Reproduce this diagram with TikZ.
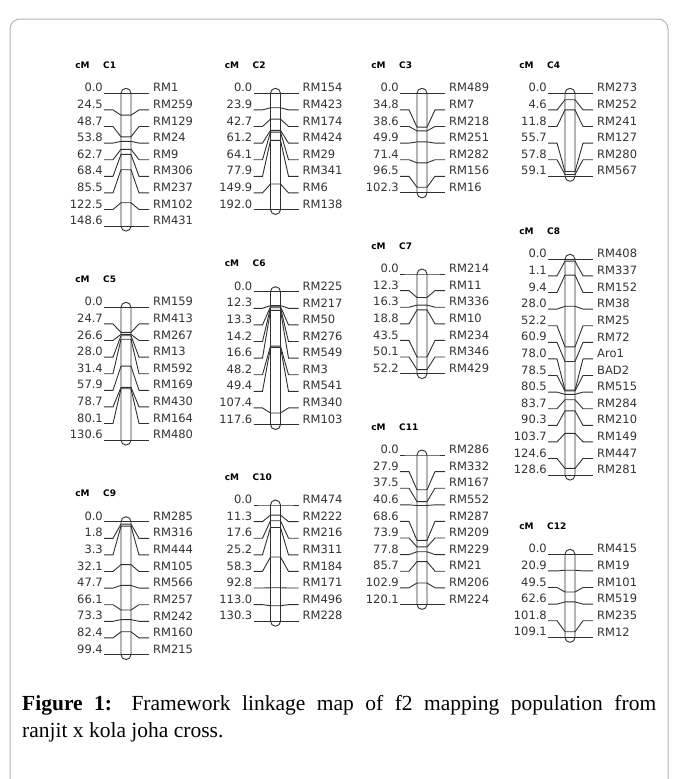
\documentclass[tikz,border=0pt]{standalone}
\usepackage{fontspec}
\setmainfont{Liberation Serif}
\newfontfamily\chfont{DejaVu Sans}
\definecolor{txtgray}{HTML}{333333}
\definecolor{linegray}{HTML}{303030}
\definecolor{framegray}{HTML}{B4B4B4}
\tikzset{
  numlab/.style={anchor=east, font=\chfont\fontsize{11.5}{12}\selectfont, inner sep=0pt, text=txtgray},
  mklab/.style={anchor=west, font=\chfont\fontsize{11.5}{12}\selectfont, inner sep=0pt, text=txtgray},
  hdr/.style={font=\chfont\bfseries\fontsize{9}{10}\selectfont, inner sep=0pt, text=black},
  link/.style={line width=0.9pt, draw=linegray},
  chbar/.style={line width=0.9pt, draw=linegray, fill=white, rounded corners=5pt},
  framebox/.style={line width=1pt, draw=framegray, rounded corners=10pt},
  captext/.style={font=\fontsize{21.5}{26}\selectfont, inner sep=0pt, text=black}
}
% #1 id, #2 header, #3 bar centre x, #4 first row y, #5 number of markers, #6 max cM, #7 list
\newcommand{\chromo}[7]{%
  \pgfmathsetmacro{\chspan}{(#5-1)*16.6}%
  \node[hdr] (#1-cm) at (#3-43.5, #4-28) {cM};
  \node[hdr, anchor=west] (#1-hd) at (#3-23, #4-28) {#2};
  \draw[chbar] (#3-5, #4-5) rectangle (#3+5, #4+\chspan+5);
  \foreach \cmv/\labv [count=\i from 0] in {#7} {
    \pgfmathsetmacro{\ry}{#4+\i*16.6}
    \pgfmathsetmacro{\ty}{#4+\cmv/#6*\chspan}
    \node[numlab] (#1-n\i) at (#3-23, \ry-5.5) {\cmv};
    \node[mklab] (#1-m\i) at (#3+27, \ry-5.5) {\labv};
    \coordinate (#1-a\i) at (#3-22, \ry);
    \coordinate (#1-b\i) at (#3-13, \ry);
    \coordinate (#1-c\i) at (#3-5, \ty);
    \coordinate (#1-d\i) at (#3+5, \ty);
    \coordinate (#1-e\i) at (#3+13, \ry);
    \coordinate (#1-f\i) at (#3+23, \ry);
    \draw[link] (#1-a\i) -- (#1-b\i) -- (#1-c\i) -- (#1-d\i) -- (#1-e\i) -- (#1-f\i);
  }%
}
\begin{document}
\begin{tikzpicture}[x=1pt,y=-1pt]
\useasboundingbox (0,0) rectangle (678,779);
\fill[white] (0,0) rectangle (678,779);
\draw[framebox] (10,790) -- (10,19) -- (668,19) -- (668,790);

\chromo{c1}{C1}{126}{93.3}{9}{148.6}{0.0/RM1,24.5/RM259,48.7/RM129,53.8/RM24,62.7/RM9,68.4/RM306,85.5/RM237,122.5/RM102,148.6/RM431}
\chromo{c2}{C2}{275.5}{93.3}{8}{192.0}{0.0/RM154,23.9/RM423,42.7/RM174,61.2/RM424,64.1/RM29,77.9/RM341,149.9/RM6,192.0/RM138}
\chromo{c3}{C3}{422}{93.3}{7}{102.3}{0.0/RM489,34.8/RM7,38.6/RM218,49.9/RM251,71.4/RM282,96.5/RM156,102.3/RM16}
\chromo{c4}{C4}{570}{93.3}{6}{59.1}{0.0/RM273,4.6/RM252,11.8/RM241,55.7/RM127,57.8/RM280,59.1/RM567}
\chromo{c5}{C5}{126}{307.3}{9}{130.6}{0.0/RM159,24.7/RM413,26.6/RM267,28.0/RM13,31.4/RM592,57.9/RM169,78.7/RM430,80.1/RM164,130.6/RM480}
\chromo{c6}{C6}{275.5}{291.7}{9}{117.6}{0.0/RM225,12.3/RM217,13.3/RM50,14.2/RM276,16.6/RM549,48.2/RM3,49.4/RM541,107.4/RM340,117.6/RM103}
\chromo{c7}{C7}{422}{274}{7}{52.2}{0.0/RM214,12.3/RM11,16.3/RM336,18.8/RM10,43.5/RM234,50.1/RM346,52.2/RM429}
\chromo{c8}{C8}{570}{259.3}{14}{128.6}{0.0/RM408,1.1/RM337,9.4/RM152,28.0/RM38,52.2/RM25,60.9/RM72,78.0/Aro1,78.5/BAD2,80.5/RM515,83.7/RM284,90.3/RM210,103.7/RM149,124.6/RM447,128.6/RM281}
\chromo{c9}{C9}{126}{521.7}{9}{99.4}{0.0/RM285,1.8/RM316,3.3/RM444,32.1/RM105,47.7/RM566,66.1/RM257,73.3/RM242,82.4/RM160,99.4/RM215}
\chromo{c10}{C10}{275.5}{505}{8}{130.3}{0.0/RM474,11.3/RM222,17.6/RM216,25.2/RM311,58.3/RM184,92.8/RM171,113.0/RM496,130.3/RM228}
\chromo{c11}{C11}{422}{455}{10}{120.1}{0.0/RM286,27.9/RM332,37.5/RM167,40.6/RM552,68.6/RM287,73.9/RM209,77.8/RM229,85.7/RM21,102.9/RM206,120.1/RM224}
\chromo{c12}{C12}{570}{554.3}{6}{109.1}{0.0/RM415,20.9/RM19,49.5/RM101,62.6/RM519,101.8/RM235,109.1/RM12}

\node[captext, anchor=west] (cap1) at (22,705) {\makebox[634pt][s]{\textbf{Figure 1:} Framework linkage map of f2 mapping population from}};
\node[captext, anchor=west] (cap2) at (22,732) {ranjit x kola joha cross.};
\end{tikzpicture}
\end{document}
